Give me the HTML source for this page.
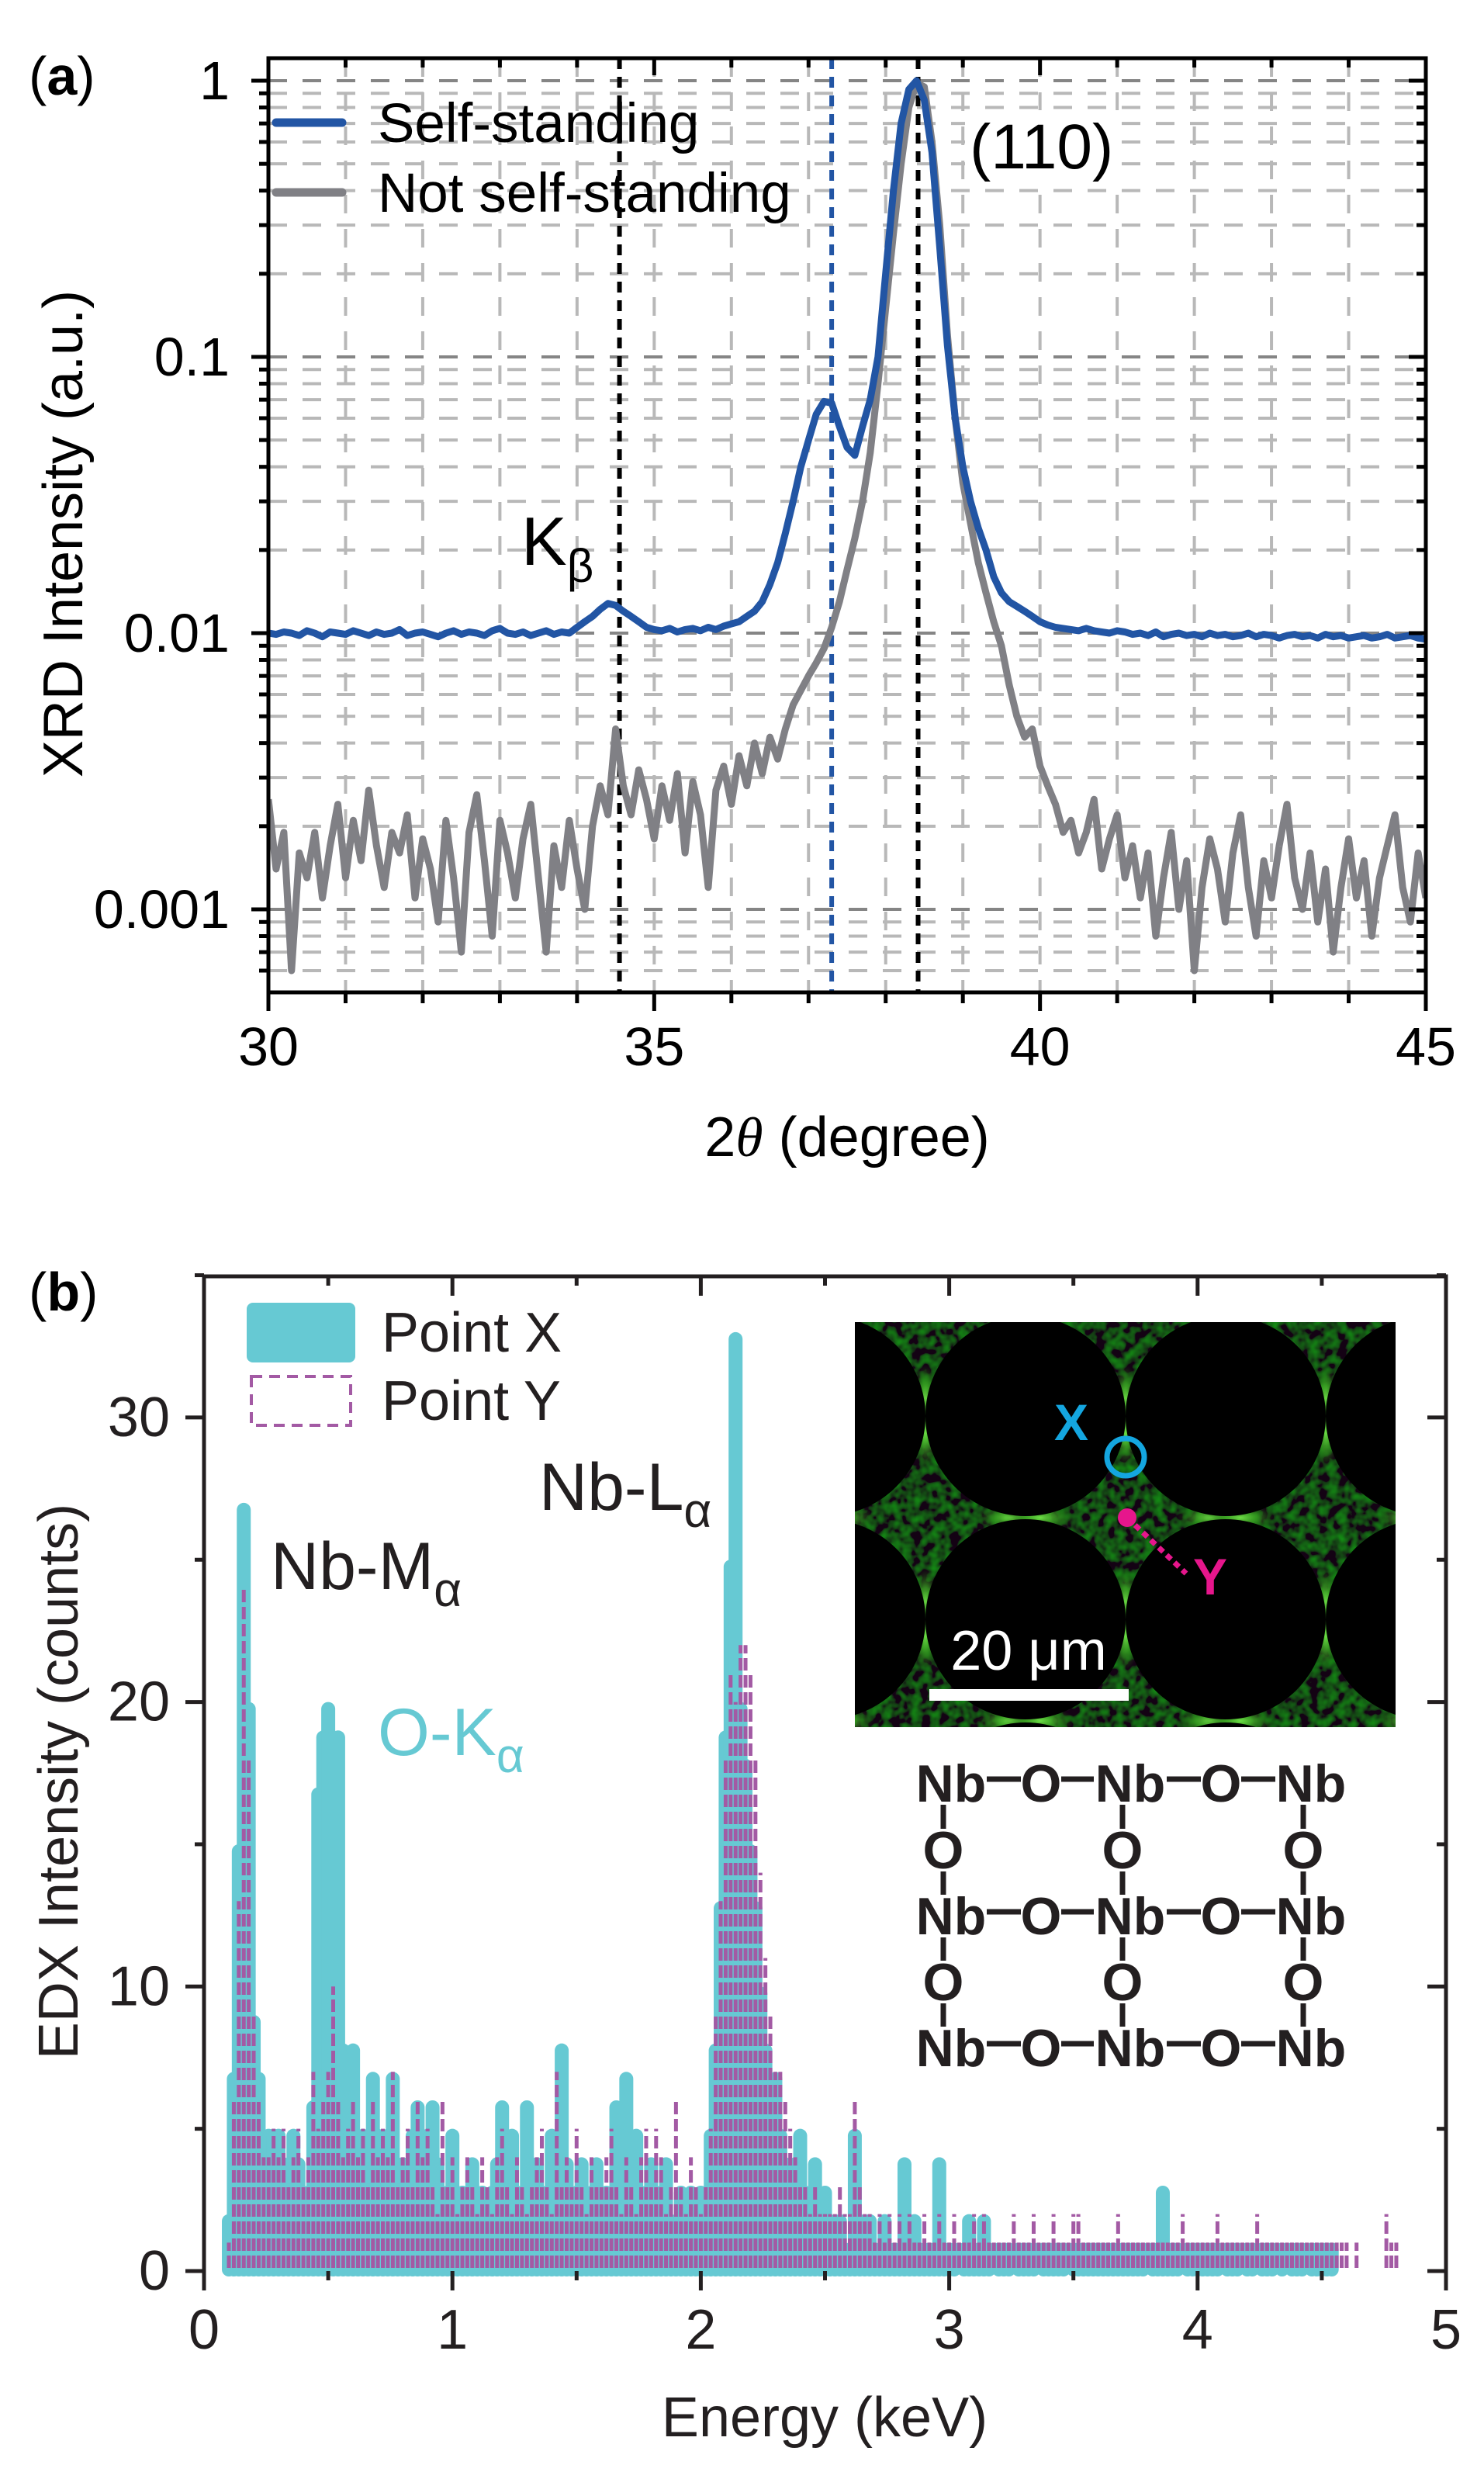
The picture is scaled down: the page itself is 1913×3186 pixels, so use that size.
<!DOCTYPE html>
<html><head><meta charset="utf-8"><style>
html,body{margin:0;padding:0;background:#fff;}
svg{display:block;font-family:"Liberation Sans",sans-serif;}
</style></head><body>
<svg id="fig" width="1913" height="3186" viewBox="0 0 1913 3186" xmlns="http://www.w3.org/2000/svg">
<defs>
<clipPath id="clipA"><rect x="346" y="75" width="1492" height="1204"/></clipPath>
<clipPath id="clipInset"><rect x="1102" y="1704" width="697" height="522"/></clipPath>
<filter id="tex" x="0" y="0" width="100%" height="100%">
<feTurbulence type="fractalNoise" baseFrequency="0.08" numOctaves="2" seed="4"/>
<feColorMatrix type="matrix" values="0 0 0 0 0.01  0.8 0 0 0 -0.3  0 0 0 0 0.01  0 0 0 0 1"/>
</filter>
<radialGradient id="glow"><stop offset="0" stop-color="#6ee046"/><stop offset="0.45" stop-color="#3aa022" stop-opacity="0.8"/><stop offset="1" stop-color="#1a4a10" stop-opacity="0"/></radialGradient>
</defs>

<!-- ===== Panel (a) ===== -->
<g>
<text x="37" y="122" font-size="70">(<tspan font-weight="bold">a</tspan>)</text>
<g id="gridA"></g>
<g id="refA"></g>
<g id="linesA" clip-path="url(#clipA)"></g>
<rect x="346" y="75" width="1492" height="1204" fill="none" stroke="#000" stroke-width="5"/>
<g id="ticksA"></g>
<rect x="1244" y="142" width="200" height="94" fill="#fff"/>
<text x="1250" y="217" font-size="82">(110)</text>
<text x="672" y="728" font-size="88">K<tspan font-size="60" dy="22">β</tspan></text>
<g>
<line x1="356" y1="158" x2="441" y2="158" stroke="#2255a4" stroke-width="11" stroke-linecap="round"/>
<text x="487" y="183" font-size="71">Self-standing</text>
<line x1="356" y1="248" x2="441" y2="248" stroke="#808085" stroke-width="11" stroke-linecap="round"/>
<text x="487" y="273" font-size="71">Not self-standing</text>
</g>
<text transform="translate(106,688) rotate(-90)" text-anchor="middle" font-size="72">XRD Intensity (a.u.)</text>
<text x="1092" y="1490" text-anchor="middle" font-size="72">2<tspan font-family="Liberation Serif" font-style="italic">θ</tspan> (degree)</text>
</g>

<!-- ===== Panel (b) ===== -->
<g>
<text x="37" y="1689" font-size="70">(<tspan font-weight="bold">b</tspan>)</text>
<g id="barsX"></g>
<g id="barsY"></g>
<path d="M263 1645 H1864 V2927 M263 1645 V2927" fill="none" stroke="#231f20" stroke-width="5"/>
<g id="ticksB"></g>
<g>
<rect x="318" y="1679" width="140" height="77" rx="8" fill="#66c9d3"/>
<text x="492" y="1742" font-size="72" fill="#231f20">Point X</text>
<rect x="324" y="1774" width="128" height="63" fill="none" stroke="#a35aa4" stroke-width="4" stroke-dasharray="14,9"/>
<text x="492" y="1830" font-size="72" fill="#231f20">Point Y</text>
</g>
<text x="349" y="2048" font-size="86" fill="#231f20">Nb-M<tspan font-size="62" dy="22">α</tspan></text>
<text x="487" y="2262" font-size="86" fill="#66c9d3">O-K<tspan font-size="62" dy="22">α</tspan></text>
<text x="695" y="1946" font-size="86" fill="#231f20">Nb-L<tspan font-size="62" dy="22">α</tspan></text>

<!-- inset micrograph -->
<g clip-path="url(#clipInset)">
<rect x="1102" y="1704" width="697" height="522" fill="#040c03"/>
<rect x="1102" y="1704" width="697" height="522" filter="url(#tex)" opacity="0.8"/>
<g id="glows"></g>
<g id="pores"></g>
</g>
<text x="1381" y="1856" font-size="66" font-weight="bold" fill="#14a6e0" text-anchor="middle">X</text>
<ellipse cx="1451" cy="1878" rx="24" ry="24" fill="none" stroke="#14a6e0" stroke-width="7"/>
<line x1="1453" y1="1956" x2="1529" y2="2028" stroke="#e6168c" stroke-width="7" stroke-dasharray="8,6"/>
<circle cx="1453" cy="1956" r="12" fill="#e6168c"/>
<text x="1560" y="2055" font-size="66" font-weight="bold" fill="#e6168c" text-anchor="middle">Y</text>
<rect x="1198" y="2177" width="257" height="15" fill="#fff"/>
<text x="1326" y="2152" font-size="72" fill="#fff" text-anchor="middle">20 μm</text>

<g id="struct"></g>

<text transform="translate(100,2296) rotate(-90)" text-anchor="middle" font-size="72" fill="#231f20">EDX Intensity (counts)</text>
<text x="1063" y="3140" text-anchor="middle" font-size="72" fill="#231f20">Energy (keV)</text>
</g>

<script>
// ---------- Panel (a) data ----------
const angleStart = 30, angleStep = 0.1;
const selfStanding = [
0.0100,0.0099,0.0101,0.0100,0.0098,0.0102,0.0100,0.0097,0.0101,0.0100,
0.0099,0.0102,0.0100,0.0098,0.0101,0.0099,0.0100,0.0103,0.0098,0.0100,
0.0101,0.0099,0.0097,0.0100,0.0102,0.0099,0.0101,0.0100,0.0098,0.0102,
0.0104,0.0100,0.0099,0.0101,0.0098,0.0100,0.0102,0.0099,0.0101,0.0100,
0.0105,
0.0110,0.0115,0.0122,0.0128,0.0126,0.0120,0.0115,0.0110,0.0105,0.0103,
0.0102,0.0104,0.0101,0.0103,0.0104,0.0102,0.0105,0.0103,0.0106,0.0108,
0.0110,0.0115,0.0120,0.0130,0.0150,0.0180,0.0230,0.0300,0.0400,0.0500,
0.0620,0.0690,0.0680,0.0560,0.0470,0.0440,0.0560,0.0700,0.1000,0.2000,
0.4000,0.7000,0.9300,1.0000,0.8500,0.5500,0.2500,0.1100,0.0600,0.0400,
0.0300,0.0240,0.0200,0.0160,0.0140,0.0130,0.0125,0.0120,0.0115,0.0110,
0.0107,0.0105,0.0104,0.0103,0.0102,0.0104,0.0102,0.0101,0.0100,0.0102,
0.0101,0.0099,0.0100,0.0098,0.0101,0.0097,0.0099,0.0100,0.0098,0.0099,
0.0097,0.0100,0.0098,0.0099,0.0097,0.0098,0.0100,0.0097,0.0099,0.0098,
0.0096,0.0098,0.0099,0.0097,0.0098,0.0096,0.0099,0.0097,0.0098,0.0096,
0.0097,0.0098,0.0096,0.0097,0.0099,0.0096,0.0097,0.0098,0.0096,0.0095];
const notSelfStanding = [
0.0025,0.0014,0.0019,0.0006,0.0016,0.0013,0.0019,0.0011,0.0017,0.0024,
0.0013,0.0021,0.0015,0.0027,0.0017,0.0012,0.0019,0.0016,0.0022,0.0011,
0.0018,0.0014,0.0009,0.0021,0.0013,0.0007,0.0019,0.0026,0.0015,0.0008,
0.0021,0.0016,0.0011,0.0018,0.0024,0.0013,0.0007,0.0017,0.0012,0.0021,
0.0014,0.0010,0.0020,0.0028,
0.0022,0.0045,0.0028,0.0022,0.0032,0.0025,0.0018,0.0028,0.0021,0.0031,
0.0016,0.0029,0.0022,0.0012,0.0027,0.0033,0.0024,0.0036,0.0028,0.0040,
0.0031,0.0042,0.0035,0.0045,0.0055,0.0062,0.0070,0.0078,0.0088,0.0105,
0.013,0.017,0.022,0.030,0.045,0.08,0.15,0.28,0.5,0.8,
0.98,0.95,0.6,0.3,0.12,0.06,0.035,0.025,0.018,0.014,
0.011,0.009,0.0065,0.005,0.0042,0.0045,0.0033,0.0028,0.0024,0.0019,
0.0021,0.0016,0.0019,0.0025,0.0014,0.0018,0.0022,0.0013,0.0017,
0.0011,0.0016,0.0008,0.0013,0.0019,0.0010,0.0015,0.0006,0.0012,0.0018,
0.0014,0.0009,0.0016,0.0022,0.0012,0.0008,0.0015,0.0011,0.0017,0.0024,
0.0013,0.0010,0.0016,0.0009,0.0014,0.0007,0.0012,0.0018,0.0011,0.0015,
0.0008,0.0013,0.0017,0.0022,0.0012,0.0009,0.0016,0.0011];
const xTicksA = [30, 35, 40, 45];
const yTicksA = [1, 0.1, 0.01, 0.001];
const yTickLabelsA = ["1", "0.1", "0.01", "0.001"];
const refAngles = [34.55, 37.3, 38.42];
const refColors = ["#000", "#2255a4", "#000"];

// ---------- Panel (b) data ----------
const energyStart = 0.10, energyStep = 0.02;
const pointX = [
2,7,15,27,20,9,7,3,5,5,
5,4,3,5,4,2,3,6,
17,19,20,19,19,8,6,
8,3,5,4,7,5,3,5,7,3,4,3,5,6,3,5,6,4,2,3,
5,2,3,1,4,2,3,2,3,4, 6,2,5,3,2,6,1,4,3,2, 5,3,8,4,2,3,4,2,3,4, 1,3,2,6,4,7,3,5,2,3, 4,2,3,4,2,1,3,2,3,2,
3,2,5,8,13,19,
25,33,20,18,15,13,10,8,6,7,
5,4,3,4,5,3,2,4,2,3,
2,1,2,1,1,5,2,1,2,1,1,2,1,1,1,4,1,2,1,1,1,1,4,1,
1,1,0,1,2,1,1,2,1,0, 1,1,1,0,1,1,1,1,0,1, 1,1,1,1,0,1,1,1,1,1, 1,1,1,1,1,1,1,1,1,1, 0,1,1,3,1,1,1,0,1,1, 1,1,1,1,1,0,1,1,1,0, 1,1,0,1,1,1,0,1,0,1, 1,1,0,1,1,1,1,1,
0,0,0,0,0,0,0,0,0,0,0,0,0];
const pointY = [
1,6,13,24,18,9,6,4,4,5,
4,5,3,4,5,3,4,7,
5,6,7,10,6,4,5,
6,4,5,3,6,4,5,4,7,3,4,5,3,6,4,5,3,2,6,3,
4,2,3,4,3,2,4,3,2,4, 5,3,2,4,3,2,3,4,5,3, 2,7,3,4,3,5,3,2,4,3, 3,4,5,3,2,4,3,2,4,5, 3,5,4,2,3,6,3,2,4,3,
2,3,5,9,13,18,
21,20,22,22,21,18,14,11,9,7,
7,6,5,4,3,3,2,3,2,2,
2,2,3,2,2,6,3,2,2,1,2,1,2,1,2,1,2,1,1,2,1,1,2,1,
1,2,1,1,1,2,1,2,1,1, 1,1,1,2,1,1,1,2,1,1, 1,2,1,1,1,2,2,1,1,1, 1,1,1,1,2,1,1,1,1,1, 1,1,1,1,1,1,1,2,1,1, 1,1,1,1,2,1,1,1,1,1, 1,1,2,1,1,1,1,1,1,1, 1,1,1,1,1,1,1,1,
1,1,1,0,1,0,0,0,0,0,2,1,1];
const xTicksB = [0, 1, 2, 3, 4, 5];
const yTicksB = [0, 10, 20, 30];

const NS = "http://www.w3.org/2000/svg";
function mk(tag, attrs, parent) {
  const e = document.createElementNS(NS, tag);
  for (const k in attrs) e.setAttribute(k, attrs[k]);
  parent.appendChild(e);
  return e;
}

const xA = v => 346 + (v - 30) * (1492 / 15);
const yA = v => 104 - Math.log10(v) * 356;

const gridA = document.getElementById("gridA");
for (let d = 31; d <= 44; d++) {
  const l = mk("line", {x1: xA(d), x2: xA(d), y1: 75, y2: 1279, stroke: "#b8b8b8", "stroke-width": 4, "stroke-dasharray": "24,20"}, gridA);
  
  
}
for (let p = -4; p <= 0; p++) {
  for (let m = 1; m <= 9; m++) {
    const v = m * Math.pow(10, p);
    const y = yA(v);
    if (y < 78 || y > 1276) continue;
    const l = mk("line", {x1: 346, x2: 1838, y1: y, y2: y, stroke: m === 1 ? "#858585" : "#b8b8b8", "stroke-width": 4, "stroke-dasharray": "24,20"}, gridA);
    
    
  }
}
const refA = document.getElementById("refA");
refAngles.forEach((a, i) => {
  const l = mk("line", {x1: xA(a), x2: xA(a), y1: 75, y2: 1279, stroke: refColors[i], "stroke-width": 6, "stroke-dasharray": "14,10"}, refA);
  
  
});
const linesA = document.getElementById("linesA");
function seriesPath(vals) {
  return vals.map((v, i) => (i ? "L" : "M") + xA(angleStart + i * angleStep).toFixed(1) + " " + yA(v).toFixed(1)).join(" ");
}
const pg = mk("path", {d: seriesPath(notSelfStanding), fill: "none", stroke: "#808085", "stroke-width": 9, "stroke-linejoin": "round"}, linesA);


const pb = mk("path", {d: seriesPath(selfStanding), fill: "none", stroke: "#2255a4", "stroke-width": 9, "stroke-linejoin": "round"}, linesA);



const ticksA = document.getElementById("ticksA");
for (let d = 30; d <= 45; d += 1) {
  const major = d % 5 === 0;
  mk("line", {x1: xA(d), x2: xA(d), y1: 1279, y2: 1279 + (major ? 24 : 14), stroke: "#000", "stroke-width": 5}, ticksA);
  mk("line", {x1: xA(d), x2: xA(d), y1: 75, y2: 75 + (major ? 22 : 12), stroke: "#000", "stroke-width": 5}, ticksA);
}
xTicksA.forEach(v => {
  const t = mk("text", {x: xA(v), y: 1373, "text-anchor": "middle", "font-size": 70}, ticksA);
  t.textContent = v;
  
  
});
for (let p = -4; p <= 0; p++) {
  for (let m = 1; m <= 9; m++) {
    const y = yA(m * Math.pow(10, p));
    if (y < 75 || y > 1279) continue;
    const len = m === 1 ? 22 : 12;
    mk("line", {x1: 346 - len, x2: 346, y1: y, y2: y, stroke: "#000", "stroke-width": 5}, ticksA);
    mk("line", {x1: 1838 - len, x2: 1838, y1: y, y2: y, stroke: "#000", "stroke-width": 5}, ticksA);
  }
}
yTicksA.forEach((v, i) => {
  const t = mk("text", {x: 296, y: yA(v) + 24, "text-anchor": "end", "font-size": 70}, ticksA);
  t.textContent = yTickLabelsA[i];
  
  
});

const xB = e => 263 + e * 320.2;
const yB = c => 2927 - c * 36.67;
const barsX = document.getElementById("barsX");
pointX.forEach((c, i) => {
  if (c <= 0) return;
  const x = xB(energyStart + i * energyStep);
  const l = mk("line", {x1: x, x2: x, y1: yB(0) - 2, y2: yB(c) + 9, stroke: "#66c9d3", "stroke-width": 18, "stroke-linecap": "round"}, barsX);
  
  
});
const barsY = document.getElementById("barsY");
pointY.forEach((c, i) => {
  if (c <= 0) return;
  const x = xB(energyStart + i * energyStep);
  const l = mk("line", {x1: x, x2: x, y1: yB(0) - 4, y2: yB(c), stroke: "#a35aa4", "stroke-width": 5, "stroke-dasharray": "16,6"}, barsY);
  
  
});
const ticksB = document.getElementById("ticksB");
for (let k = 0; k <= 10; k++) {
  const e = k * 0.5, major = k % 2 === 0;
  mk("line", {x1: xB(e), x2: xB(e), y1: 2927, y2: 2927 + (major ? 25 : 12), stroke: "#231f20", "stroke-width": 5}, ticksB);
  mk("line", {x1: xB(e), x2: xB(e), y1: 1645, y2: 1645 + (major ? 25 : 12), stroke: "#231f20", "stroke-width": 5}, ticksB);
}
for (let c = 0; c <= 35; c += 5) {
  const major = c % 10 === 0;
  mk("line", {x1: 263 - (major ? 24 : 12), x2: 263, y1: yB(c), y2: yB(c), stroke: "#231f20", "stroke-width": 5}, ticksB);
  mk("line", {x1: 1864 - (major ? 24 : 12), x2: 1864, y1: yB(c), y2: yB(c), stroke: "#231f20", "stroke-width": 5}, ticksB);
}
xTicksB.forEach(v => {
  const t = mk("text", {x: xB(v), y: 3027, "text-anchor": "middle", "font-size": 72, fill: "#231f20"}, ticksB);
  t.textContent = v;
  
  
});
yTicksB.forEach(v => {
  const t = mk("text", {x: 219, y: yB(v) + 24, "text-anchor": "end", "font-size": 72, fill: "#231f20"}, ticksB);
  t.textContent = v;
  
  
});

// inset pores and glows
const pores = document.getElementById("pores");
const glows = document.getElementById("glows");
const cxs = [1064, 1322, 1580, 1838], cys = [1563, 1825, 2087, 2349];
cys.forEach(cy => cxs.forEach(cx => {
  mk("circle", {cx: cx, cy: cy, r: 129, fill: "#000"}, pores);
}));
for (let i = 0; i < 3; i++) for (let j = 0; j < 3; j++) {
  const gx = (cxs[i] + cxs[i + 1]) / 2, gy = (cys[j] + cys[j + 1]) / 2;
  [[0, -110], [0, 110], [-110, 0], [110, 0]].forEach(o => {
    mk("ellipse", {cx: gx + o[0], cy: gy + o[1], rx: o[0] ? 45 : 18, ry: o[0] ? 18 : 45, fill: "url(#glow)"}, glows);
  });
}

// Nb-O structure
const st = document.getElementById("struct");
const colX = [1226, 1457, 1690], oColX = [1342, 1574];
const nbRowY = [2322, 2493, 2663], oRowY = [2408, 2578];
const bondSegs = [[1272, 1316], [1368, 1410], [1504, 1548], [1600, 1644]];
nbRowY.forEach(by => {
  bondSegs.forEach(s => {
    mk("line", {x1: s[0], x2: s[1], y1: by - 29, y2: by - 29, stroke: "#231f20", "stroke-width": 7}, st);
  });
  colX.forEach(x => {
    const t = mk("text", {x: x, y: by, "text-anchor": "middle", "font-size": 68, "font-weight": "bold", fill: "#231f20"}, st);
    t.textContent = "Nb";
  });
  oColX.forEach(x => {
    const t = mk("text", {x: x, y: by, "text-anchor": "middle", "font-size": 68, "font-weight": "bold", fill: "#231f20"}, st);
    t.textContent = "O";
  });
});
colX.forEach(x => {
  [[2326, 2357], [2412, 2442], [2497, 2527], [2582, 2612]].forEach(s => {
    mk("line", {x1: x - 10, x2: x - 10, y1: s[0], y2: s[1], stroke: "#231f20", "stroke-width": 7}, st);
  });
  oRowY.forEach(y => {
    const t = mk("text", {x: x - 10, y: y, "text-anchor": "middle", "font-size": 68, "font-weight": "bold", fill: "#231f20"}, st);
    t.textContent = "O";
  });
});
</script>
</svg>
</body></html>
